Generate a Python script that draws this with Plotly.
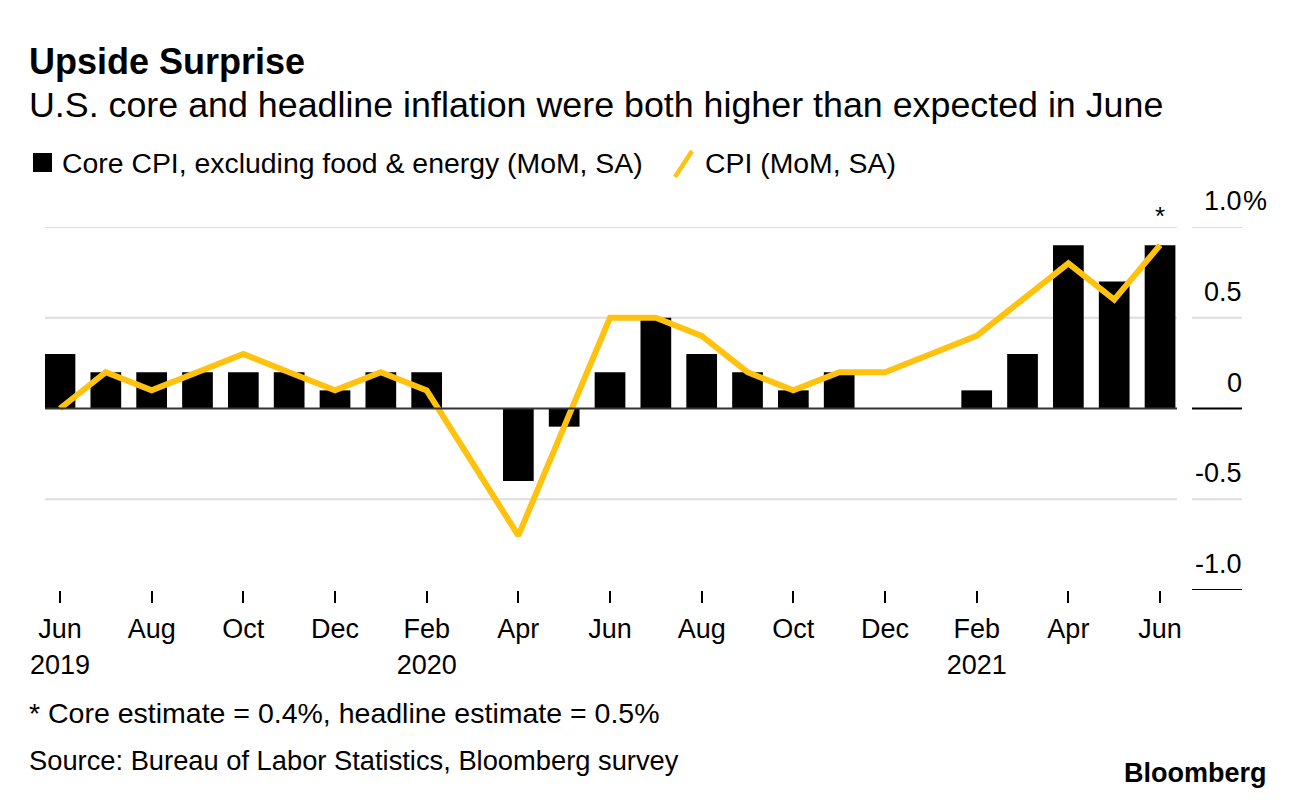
import plotly.graph_objects as go

months = ["Jun 2019", "Jul 2019", "Aug 2019", "Sep 2019", "Oct 2019", "Nov 2019", "Dec 2019",
          "Jan 2020", "Feb 2020", "Mar 2020", "Apr 2020", "May 2020", "Jun 2020", "Jul 2020",
          "Aug 2020", "Sep 2020", "Oct 2020", "Nov 2020", "Dec 2020", "Jan 2021", "Feb 2021",
          "Mar 2021", "Apr 2021", "May 2021", "Jun 2021"]
core_cpi = [0.3, 0.2, 0.2, 0.2, 0.2, 0.2, 0.1, 0.2, 0.2, 0.0, -0.4, -0.1, 0.2, 0.5,
            0.3, 0.2, 0.1, 0.2, 0.0, 0.0, 0.1, 0.3, 0.9, 0.7, 0.9]
cpi = [0.0, 0.2, 0.1, 0.2, 0.3, 0.2, 0.1, 0.2, 0.1, -0.3, -0.7, -0.1, 0.5, 0.5,
       0.4, 0.2, 0.1, 0.2, 0.2, 0.3, 0.4, 0.6, 0.8, 0.6, 0.9]
tick_vals = ["Jun 2019", "Aug 2019", "Oct 2019", "Dec 2019", "Feb 2020", "Apr 2020", "Jun 2020",
             "Aug 2020", "Oct 2020", "Dec 2020", "Feb 2021", "Apr 2021", "Jun 2021"]
tick_text = ["Jun<br>2019", "Aug", "Oct", "Dec", "Feb<br>2020", "Apr", "Jun",
             "Aug", "Oct", "Dec", "Feb<br>2021", "Apr", "Jun"]
y_ticks = [1.0, 0.5, 0.0, -0.5, -1.0]
y_labels = ["1.0", "0.5", "0", "-0.5", "-1.0"]

W, H = 1296, 800
L, R, T, B = 45, 1177, 227, 590
FONT = "Liberation Sans, Arial, sans-serif"
YELLOW = "#FFC20E"


def px(x):
    return (x - L) / (R - L)


def py(y):
    return (B - y) / (B - T)


fig = go.Figure()
fig.add_trace(go.Bar(x=months, y=core_cpi, marker=dict(color="black", line=dict(width=0)),
                     name="Core CPI, excluding food & energy (MoM, SA)", showlegend=False))
fig.add_trace(go.Scatter(x=months, y=cpi, mode="lines",
                         line=dict(color=YELLOW, width=6), name="CPI (MoM, SA)",
                         showlegend=False))

shapes = []
for v in y_ticks:
    col = "#333333" if v == 0 else "#dddddd"
    if v != -1.0:
        shapes.append(dict(type="line", xref="paper", yref="y", x0=0, x1=1, y0=v, y1=v,
                           line=dict(color=col, width=2), layer="below" if v != 0 else "above"))
    lab_col = "black" if v in (0.0, -1.0) else "#dddddd"
    shapes.append(dict(type="line", xref="paper", yref="y", x0=px(1192), x1=px(1242), y0=v, y1=v,
                       line=dict(color=lab_col, width=2)))
# legend markers
shapes.append(dict(type="rect", xref="paper", yref="paper", x0=px(33), x1=px(52), y0=py(172), y1=py(153),
                   fillcolor="black", line=dict(width=0)))
shapes.append(dict(type="line", xref="paper", yref="paper", x0=px(675), x1=px(692), y0=py(177), y1=py(151),
                   line=dict(color=YELLOW, width=4.5)))

ann = []
for v, t in zip(y_ticks, y_labels):
    ann.append(dict(xref="paper", yref="y", x=px(1244), y=v, text=t, showarrow=False,
                    xanchor="right", yanchor="bottom", yshift=9, font=dict(size=27, color="black", family=FONT)))
ann.append(dict(xref="paper", yref="y", x=px(1244), y=1.0, text="%", showarrow=False,
                xanchor="left", yanchor="bottom", yshift=9, xshift=-3, font=dict(size=27, color="black", family=FONT)))
ann.append(dict(xref="x", yref="y", x="Jun 2021", y=1.0, text="*", showarrow=False,
                yanchor="bottom", yshift=-6, font=dict(size=26, color="black", family=FONT)))
ann.append(dict(xref="paper", yref="paper", x=px(27), y=py(62), text="<b>Upside Surprise</b>", showarrow=False,
                xanchor="left", yanchor="middle", font=dict(size=36, color="black", family=FONT)))
ann.append(dict(xref="paper", yref="paper", x=px(27), y=py(105),
                text="U.S. core and headline inflation were both higher than expected in June", showarrow=False,
                xanchor="left", yanchor="middle", font=dict(size=35.8, color="black", family=FONT)))
ann.append(dict(xref="paper", yref="paper", x=px(60), y=py(163),
                text="Core CPI, excluding food & energy (MoM, SA)", showarrow=False,
                xanchor="left", yanchor="middle", font=dict(size=28.4, color="black", family=FONT)))
ann.append(dict(xref="paper", yref="paper", x=px(703), y=py(163),
                text="CPI (MoM, SA)", showarrow=False,
                xanchor="left", yanchor="middle", font=dict(size=28.4, color="black", family=FONT)))
ann.append(dict(xref="paper", yref="paper", x=px(27), y=py(713),
                text="* Core estimate = 0.4%, headline estimate = 0.5%", showarrow=False,
                xanchor="left", yanchor="middle", font=dict(size=28.5, color="black", family=FONT)))
ann.append(dict(xref="paper", yref="paper", x=px(27), y=py(760),
                text="Source: Bureau of Labor Statistics, Bloomberg survey", showarrow=False,
                xanchor="left", yanchor="middle", font=dict(size=27.3, color="black", family=FONT)))
ann.append(dict(xref="paper", yref="paper", x=px(1269), y=py(773),
                text="<b>Bloomberg</b>", showarrow=False,
                xanchor="right", yanchor="middle", font=dict(size=27, color="black", family=FONT)))

fig.update_layout(
    width=W, height=H,
    margin=dict(l=L, r=W - R, t=T, b=H - B, pad=0),
    paper_bgcolor="white", plot_bgcolor="white",
    bargap=0.33,
    shapes=shapes, annotations=ann,
    xaxis=dict(type="category", range=[-0.327, 24.37], tickmode="array",
               tickvals=tick_vals, ticktext=tick_text, ticks="outside", ticklen=12,
               tickcolor="black", tickwidth=2, showgrid=False, zeroline=False, showline=False,
               ticklabelstandoff=3,
               tickfont=dict(size=27, color="black", family=FONT)),
    yaxis=dict(range=[-1.0, 1.0], showgrid=False, zeroline=False, showticklabels=False,
               showline=False),
    font=dict(family=FONT),
)
fig.write_html("out.html")
